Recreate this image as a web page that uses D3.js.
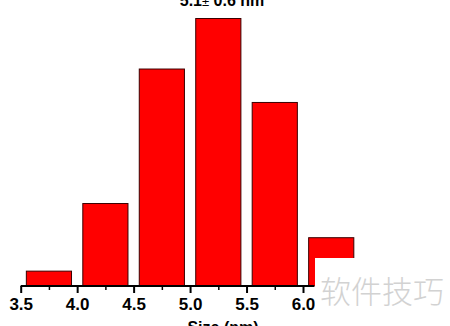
<!DOCTYPE html>
<html>
<head>
<meta charset="utf-8">
<script src="https://cdn.jsdelivr.net/npm/d3@7"></script>
<style>
  body { margin: 0; background: #fff; }
  svg { display: block; }
</style>
</head>
<body>
<div id="graph"></div>
<script>
var width = 450, height = 326

// histogram bins (nm) and counts
var binStart = [3.55, 4.05, 4.55, 5.05, 5.55, 6.05]
var binEnd = [3.95, 4.45, 4.95, 5.45, 5.95, 6.45]
var counts = [2, 11.1, 29.2, 36, 24.7, 6.5]
var tickVals = [3.5, 4.0, 4.5, 5.0, 5.5, 6.0]
var title = "5.1± 0.6 nm"
var xLabel = "Size (nm)"
var watermark = "软件技巧"

var svg = d3.select('#graph').append('svg')
  .attr('width', width).attr('height', height)

var x = d3.scaleLinear().domain([3.5, 6.0]).range([20.7, 303])
var y = d3.scaleLinear().domain([0, 36]).range([286, 18.5])

// bars
svg.selectAll('.bar')
  .data(counts)
  .enter().append('rect')
  .attr('class', 'bar')
  .attr('x', function(d, i) { return x(binStart[i]) })
  .attr('width', function(d, i) { return x(binEnd[i]) - x(binStart[i]) })
  .attr('y', function(d) { return y(d) })
  .attr('height', function(d) { return y(0) - y(d) })
  .attr('fill', '#ff0000')
  .attr('stroke', '#3a0000')
  .attr('stroke-width', 1)

// x axis, major + minor ticks
var axis = svg.append('g').attr('transform', 'translate(0,' + y(0) + ')')

axis.append('g')
  .call(d3.axisBottom(x).tickValues(d3.range(3.75, 6.0, 0.5)).tickSize(4).tickFormat(''))
  .call(function(g) { g.select('.domain').remove() })
  .selectAll('line').attr('stroke', '#000').attr('stroke-width', 1.5)

axis.append('g')
  .call(d3.axisBottom(x).tickValues(tickVals).tickSize(7).tickSizeOuter(0).tickFormat(d3.format('.1f')))
  .call(function(g) {
    g.select('.domain').attr('d', 'M' + x(3.5) + ',0H' + (x(6.0) + 11)).attr('stroke-width', 2)
    g.selectAll('line').attr('stroke-width', 2)
    g.selectAll('text')
      .attr('y', 12)
      .attr('font-family', 'Liberation Sans, Arial, sans-serif')
      .attr('font-size', 17)
      .attr('font-weight', 'bold')
      .attr('fill', '#000')
  })

// title
var t = svg.append('text')
  .attr('x', 222).attr('y', 6)
  .attr('text-anchor', 'middle')
  .attr('font-family', 'Liberation Sans, Arial, sans-serif')
  .attr('font-size', 16)
  .attr('font-weight', 'bold')
t.append('tspan').text(title.split('±')[0])
t.append('tspan').attr('font-weight', 'normal').attr('font-size', 13).text('±')
t.append('tspan').text(title.split('±')[1])

// x label
svg.append('text')
  .attr('x', 223).attr('y', 333)
  .attr('text-anchor', 'middle')
  .attr('font-family', 'Liberation Sans, Arial, sans-serif')
  .attr('font-size', 16)
  .attr('font-weight', 'bold')
  .text(xLabel)

// watermark box over the corner
svg.append('rect')
  .attr('x', 315).attr('y', 258)
  .attr('width', width - 315).attr('height', height - 258)
  .attr('fill', '#fff')

svg.append('text')
  .attr('x', 320).attr('y', 303)
  .attr('font-family', 'Noto Sans CJK SC, sans-serif')
  .attr('font-size', 31)
  .attr('font-weight', 300)
  .attr('fill', '#d2d2d2')
  .text(watermark)
</script>
</body>
</html>
